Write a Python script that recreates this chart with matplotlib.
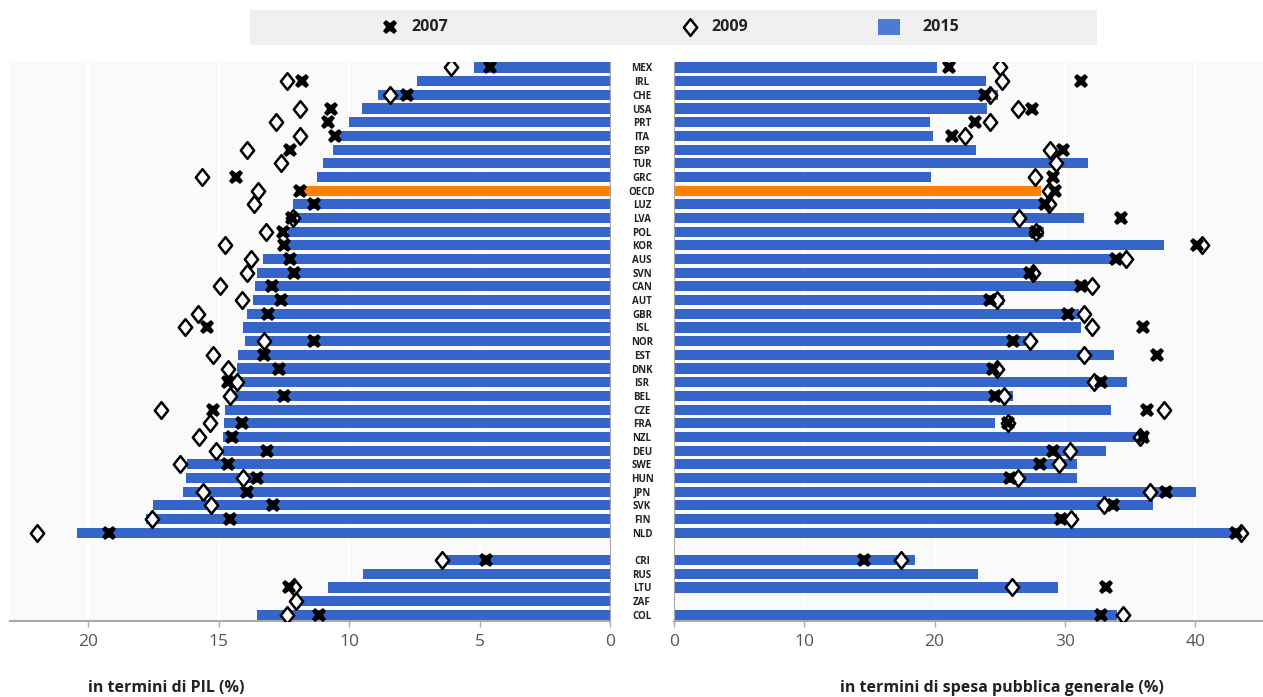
import numpy as np
import matplotlib
matplotlib.use("Agg")
import matplotlib.pyplot as plt
from matplotlib.patches import Rectangle
from matplotlib.lines import Line2D
from matplotlib.path import Path

plt.rcParams['font.family'] = ['Open Sans', 'DejaVu Sans']

nan = np.nan

countries = ['MEX', 'IRL', 'CHE', 'USA', 'PRT', 'ITA', 'ESP', 'TUR', 'GRC', 'OECD',
             'LUZ', 'LVA', 'POL', 'KOR', 'AUS', 'SVN', 'CAN', 'AUT', 'GBR', 'ISL',
             'NOR', 'EST', 'DNK', 'ISR', 'BEL', 'CZE', 'FRA', 'NZL', 'DEU', 'SWE',
             'HUN', 'JPN', 'SVK', 'FIN', 'NLD',
             'CRI', 'RUS', 'LTU', 'ZAF', 'COL']

# in termini di PIL (%)
gdp2015 = [5.2, 7.4, 8.9, 9.5, 10.0, 10.4, 10.6, 11.0, 11.25, 11.9,
           12.15, 12.25, 12.35, 12.45, 13.3, 13.55, 13.6, 13.7, 13.9, 14.05,
           14.0, 14.25, 14.3, 14.45, 14.5, 14.75, 14.8, 14.85, 14.85, 16.2,
           16.25, 16.35, 17.5, 17.8, 20.45,
           6.3, 9.45, 10.8, 12.05, 13.55]
gdp2007 = [4.6, 11.8, 7.8, 10.7, 10.8, 10.55, 12.25, nan, 14.35, 11.9,
           11.35, 12.2, 12.55, 12.5, 12.25, 12.1, 12.95, 12.6, 13.1, 15.45,
           11.35, 13.25, 12.7, 14.65, 12.5, 15.2, 14.1, 14.5, 13.15, 14.65,
           13.55, 13.9, 12.9, 14.55, 19.2,
           4.75, nan, 12.3, nan, 11.15]
gdp2009 = [6.1, 12.4, 8.45, 11.9, 12.8, 11.9, 13.9, 12.6, 15.65, 13.5,
           13.65, 12.15, 13.2, 14.75, 13.75, 13.9, 14.95, 14.1, 15.8, 16.3,
           13.25, 15.2, 14.65, 14.3, 14.55, 17.2, 15.35, 15.75, 15.1, 16.5,
           14.05, 15.6, 15.3, 17.55, 21.95,
           6.45, nan, 12.1, 12.05, 12.4]

# in termini di spesa pubblica generale (%)
spend2015 = [20.2, 23.95, 24.9, 24.0, 19.65, 19.9, 23.2, 31.8, 19.75, 28.15,
             28.2, 31.5, 28.4, 37.6, 33.65, 27.25, 31.25, 25.35, 31.05, 31.2,
             27.1, 33.8, 24.5, 34.75, 26.0, 33.55, 24.65, 35.85, 33.15, 30.95,
             30.95, 40.05, 36.75, 30.95, 43.2,
             18.5, 23.3, 29.45, nan, 34.0]
spend2007 = [21.1, 31.25, 23.9, 27.5, 23.1, 21.3, 29.85, nan, 29.05, 29.2,
             28.5, 34.3, 27.75, 40.1, 33.9, 27.35, 31.2, 24.25, 30.25, 36.0,
             26.0, 37.1, 24.5, 32.8, 24.6, 36.3, 25.65, 36.0, 29.1, 28.05,
             25.8, 37.75, 33.7, 29.7, 43.15,
             14.55, nan, 33.15, nan, 32.8]
spend2009 = [25.05, 25.15, 24.25, 26.4, 24.25, 22.3, 28.85, 29.35, 27.7, 28.75,
             28.75, 26.45, 27.75, 40.55, 34.7, 27.55, 32.05, 24.75, 31.5, 32.05,
             27.3, 31.45, 24.75, 32.2, 25.35, 37.6, 25.65, 35.75, 30.4, 29.55,
             26.4, 36.5, 33.0, 30.45, 43.5,
             17.45, nan, 25.9, nan, 34.45]

leftTicks = [0, 5, 10, 15, 20]
rightTicks = [0, 10, 20, 30, 40]

blue = '#3565c9'
orange = '#ff8000'

# diamond a bit narrower than a square one
diamond = Path([(0, 1), (0.8, 0), (0, -1), (-0.8, 0), (0, 1)],
               [Path.MOVETO, Path.LINETO, Path.LINETO, Path.LINETO, Path.CLOSEPOLY])
dStyle = dict(marker=diamond, markersize=12, markerfacecolor='white',
              markeredgecolor='black', markeredgewidth=1.8, linestyle='none')
xStyle = dict(marker='X', markersize=10.5, color='black', markeredgewidth=0, linestyle='none')

# row positions: 35 OECD rows, one empty row, 5 partner countries
rows = list(range(35)) + list(range(36, 41))
barColors = [orange if c == 'OECD' else blue for c in countries]

W, H = 1263, 697
fig = plt.figure(figsize=(W / 100, H / 100), dpi=100)
axL = fig.add_axes([10 / W, 1 - 621 / H, 600 / W, 559 / H])
axR = fig.add_axes([674 / W, 1 - 621 / H, 589 / W, 559 / H])

for ax in (axL, axR):
    ax.set_facecolor('#fafafa')
    for s in ['top', 'left', 'right']:
        ax.spines[s].set_visible(False)
    ax.spines['bottom'].set_color('#aaaaaa')
    ax.spines['bottom'].set_linewidth(1.5)
    ax.set_ylim(40.45, -0.4)
    ax.grid(axis='x', color='white', linewidth=1.5)
    ax.set_axisbelow(True)
    ax.tick_params(axis='x', colors='#aaaaaa', labelcolor='#555555', labelsize=12.5,
                   length=4, width=1, pad=5)

axL.barh(rows, gdp2015, height=0.74, color=barColors, zorder=2)
axL.plot(gdp2009, rows, zorder=3, **dStyle)
axL.plot(gdp2007, rows, zorder=4, **xStyle)
axL.set_xlim(23.0, 0)
axL.set_xticks(leftTicks)
axL.set_yticks([])
axL.spines['right'].set_visible(True)
axL.spines['right'].set_color('#aaaaaa')

axR.barh(rows, spend2015, height=0.74, color=barColors, zorder=2)
axR.plot(spend2009, rows, zorder=3, **dStyle)
axR.plot(spend2007, rows, zorder=4, **xStyle)
axR.set_xlim(0, 45.2)
axR.set_xticks(rightTicks)
axR.spines['left'].set_visible(True)
axR.spines['left'].set_color('#aaaaaa')
axR.set_yticks(rows)
axR.set_yticklabels(countries, fontsize=7, fontweight='bold', color='#222222', ha='center')
axR.tick_params(axis='y', length=0, pad=23)

fig.text(88 / W, 1 - 688 / H, 'in termini di PIL (%)', fontsize=11.5, fontweight='bold',
         color='#222222', va='center', ha='left')
fig.text(840 / W, 1 - 688 / H, 'in termini di spesa pubblica generale (%)', fontsize=11.5,
         fontweight='bold', color='#222222', va='center', ha='left')

# legend strip
fig.add_artist(Rectangle((250 / W, 1 - 45 / H), 847 / W, 35 / H, transform=fig.transFigure,
                         facecolor='#f0f0f0', edgecolor='none'))
ly = 1 - 27 / H
fig.add_artist(Line2D([390 / W], [ly], transform=fig.transFigure, **xStyle))
fig.add_artist(Line2D([690 / W], [ly], transform=fig.transFigure, **dStyle))
fig.add_artist(Rectangle((878 / W, ly - 8 / H), 22 / W, 16 / H, transform=fig.transFigure,
                         facecolor='#4c7bd4', edgecolor='none'))
for x, lab in [(411, '2007'), (711, '2009'), (922, '2015')]:
    fig.text(x / W, ly, lab, fontsize=11.5, fontweight='bold', color='#222222',
             va='center', ha='left')

fig.savefig('out.png', dpi=100)
